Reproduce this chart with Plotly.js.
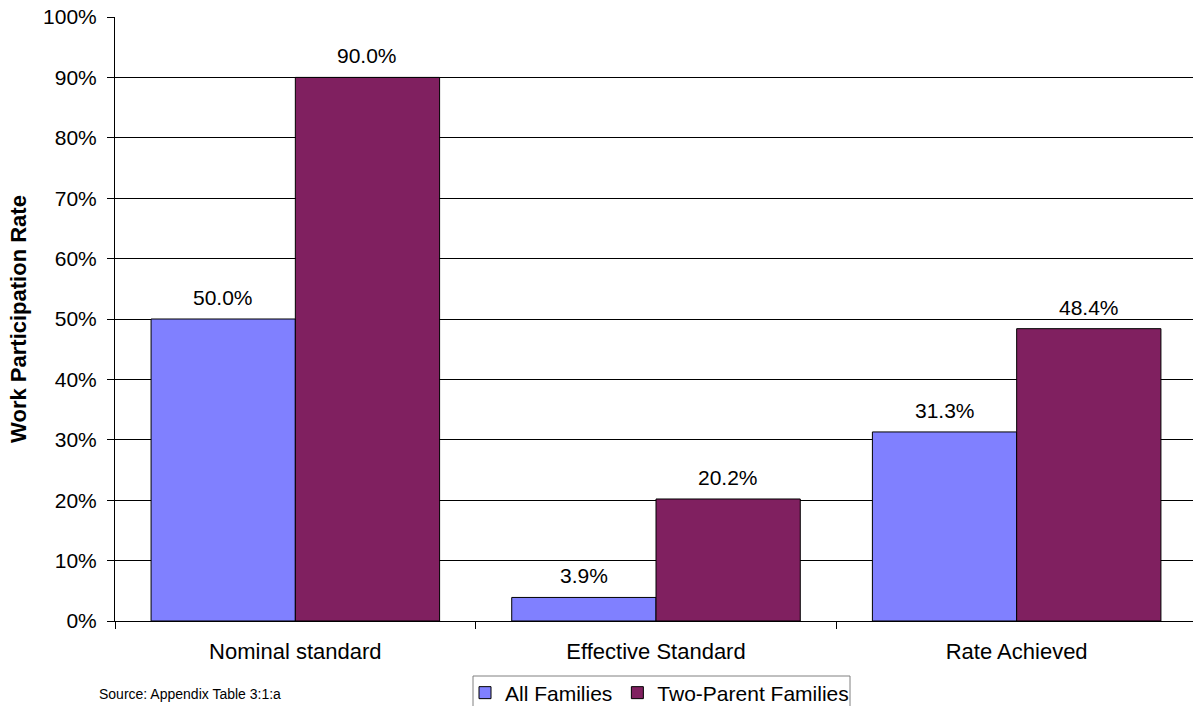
<!DOCTYPE html>
<html>
<head>
<meta charset="utf-8">
<script src="https://cdn.plot.ly/plotly-3.0.1.min.js"></script>
<style>
html,body{margin:0;padding:0;overflow:hidden;background:#fff;}
#chart{width:1197px;height:706px;}
</style>
</head>
<body>
<div id="chart"></div>
<script>
const categories = ["Nominal standard", "Effective Standard", "Rate Achieved"];
const allFamilies = [50.0, 3.9, 31.3];
const twoParentFamilies = [90.0, 20.2, 48.4];
const seriesNames = ["All Families", "Two-Parent Families"];
const yTickVals = [0,10,20,30,40,50,60,70,80,90,100];
const yTickText = yTickVals.map(v => v + "%");
const sourceNote = "Source: Appendix Table 3:1:a";

const FONT = "Liberation Sans, Arial, sans-serif";
const colors = ["#8080FF", "#802060"];
const seriesVals = [allFamilies, twoParentFamilies];

const traces = seriesVals.map((vals, i) => ({
  type: "bar",
  name: seriesNames[i],
  x: categories,
  y: vals,
  width: 0.4,
  offset: i === 0 ? -0.4 : 0,
  marker: {color: colors[i], line: {color: "#000", width: 1}},
  hoverinfo: "none"
}));

const annotations = [];
seriesVals.forEach((vals, i) => {
  vals.forEach((v, j) => {
    annotations.push({
      x: j + (i === 0 ? -0.2 : 0.2), xref: "x",
      y: v, yref: "y",
      text: v.toFixed(1) + "%",
      showarrow: false,
      yanchor: "bottom",
      yshift: 8,
      font: {family: FONT, size: 21, color: "#000"}
    });
  });
});
annotations.push({
  text: sourceNote, xref: "paper", yref: "paper",
  x: -0.0166, y: -0.1209, xanchor: "left", yanchor: "middle",
  showarrow: false, font: {family: FONT, size: 14, color: "#000"}
});

// plot area in pixels: x 115..1197, y 17..621
const px = p => (p - 115) / 1082;
const py = p => (621 - p) / 604;

const layout = {
  width: 1197, height: 706,
  margin: {l: 115, r: 0, t: 17, b: 85},
  paper_bgcolor: "#fff", plot_bgcolor: "#fff",
  font: {family: FONT, size: 21, color: "#000"},
  barmode: "group",
  showlegend: true,
  legend: {
    orientation: "h",
    xref: "container", yref: "container",
    x: 465 / 1197, xanchor: "left",
    y: (706 - 693) / 706, yanchor: "middle",
    bgcolor: "rgba(0,0,0,0)",
    borderwidth: 0,
    font: {family: FONT, size: 21, color: "#000"},
    itemwidth: 30, tracegroupgap: 0
  },
  shapes: [{
    type: "rect", xref: "paper", yref: "paper",
    x0: px(473), x1: px(850), y0: py(676), y1: py(720),
    line: {color: "#808080", width: 1}, fillcolor: "rgba(0,0,0,0)", layer: "below"
  }],
  xaxis: {
    type: "category",
    tickson: "boundaries",
    ticks: "outside", ticklen: 7, tickcolor: "#000",
    showline: true, linecolor: "#000", linewidth: 1,
    showgrid: false, zeroline: false,
    tickfont: {family: FONT, size: 22},
    ticklabelstandoff: 11,
    fixedrange: true
  },
  yaxis: {
    range: [0, 100],
    tickvals: yTickVals, ticktext: yTickText,
    ticks: "outside", ticklen: 7, tickcolor: "#000",
    showline: true, linecolor: "#000", linewidth: 1,
    showgrid: true, gridcolor: "#000", gridwidth: 1,
    zeroline: false,
    tickfont: {family: FONT, size: 21},
    ticklabelstandoff: 6,
    title: {text: "Work Participation Rate", font: {family: FONT, size: 22, weight: "bold"}, standoff: 10},
    fixedrange: true
  },
  annotations: annotations
};

Plotly.newPlot("chart", traces, layout, {displayModeBar: false, staticPlot: true});
</script>
</body>
</html>
